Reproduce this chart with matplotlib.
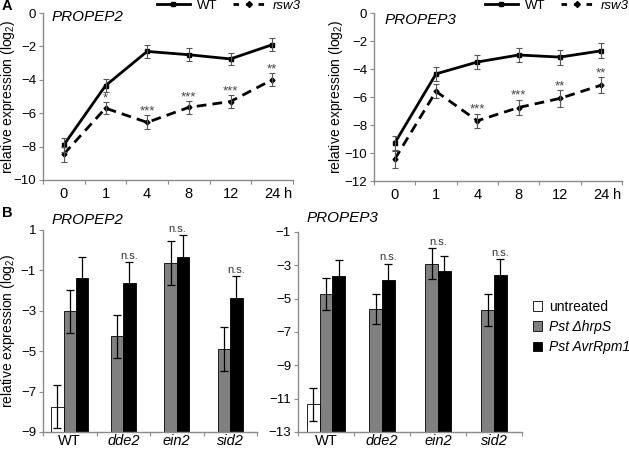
import numpy as np
import matplotlib
matplotlib.use("Agg")
import matplotlib.pyplot as plt
from matplotlib.lines import Line2D
from matplotlib.patches import Patch

plt.rcParams["font.family"] = ["Liberation Sans", "DejaVu Sans"]
plt.rcParams["mathtext.fontset"] = "custom"
plt.rcParams["mathtext.rm"] = "Liberation Sans"
plt.rcParams["mathtext.it"] = "Liberation Sans:italic"

# ── data ────────────────────────────────────────────────────────────────
time_labels = ["0", "1", "4", "8", "12", "24"]

p2_wt = [-7.9, -4.35, -2.3, -2.5, -2.75, -1.9]
p2_wt_err = [0.4, 0.4, 0.38, 0.38, 0.37, 0.38]
p2_rsw3 = [-8.45, -5.7, -6.55, -5.65, -5.3, -4.0]
p2_rsw3_err = [0.45, 0.35, 0.42, 0.37, 0.38, 0.38]
p2_stars = ["", "*", "***", "***", "***", "**"]

p3_wt = [-9.3, -4.35, -3.5, -3.0, -3.15, -2.7]
p3_wt_err = [0.5, 0.48, 0.5, 0.52, 0.53, 0.54]
p3_rsw3 = [-10.45, -5.6, -7.7, -6.75, -6.1, -5.15]
p3_rsw3_err = [0.6, 0.5, 0.5, 0.55, 0.6, 0.55]
p3_stars = ["", "", "***", "***", "**", "**"]

genotypes = ["WT", "dde2", "ein2", "sid2"]
nan = float("nan")
b2_untreated = [-7.75, nan, nan, nan]
b2_untreated_err = [1.07, nan, nan, nan]
b2_hrps = [-3.03, -4.27, -0.63, -4.88]
b2_hrps_err = [1.06, 1.06, 1.08, 1.08]
b2_avr = [-1.4, -1.63, -0.33, -2.38]
b2_avr_err = [1.07, 1.05, 1.08, 1.08]
b2_ns = ["", "n.s.", "n.s.", "n.s."]

b3_untreated = [-11.34, nan, nan, nan]
b3_untreated_err = [0.97, nan, nan, nan]
b3_hrps = [-4.7, -5.62, -2.9, -5.66]
b3_hrps_err = [0.95, 0.93, 0.93, 0.95]
b3_avr = [-3.62, -3.86, -3.36, -3.58]
b3_avr_err = [0.94, 0.95, 0.93, 0.96]
b3_ns = ["", "n.s.", "n.s.", "n.s."]

treatments = ["untreated", "Pst \u0394hrpS", "Pst AvrRpm1"]
bar_colors = ["white", "#808080", "black"]

SPINE = "#8a8a8a"
YLABEL = "relative expression (log$_2$)"
W, H = 629, 450


def px_axes(fig, left, top, right, bottom):
    return fig.add_axes([left / W, 1 - bottom / H, (right - left) / W, (bottom - top) / H])


def style_axes(ax, n, ylim, step, labels, italic=None, xpad=5):
    for side in ("top", "right"):
        ax.spines[side].set_visible(False)
    for side in ("left", "bottom"):
        ax.spines[side].set_color(SPINE)
        ax.spines[side].set_linewidth(1.0)
    ax.set_xlim(-0.5, n - 0.5)
    ax.set_ylim(*ylim)
    ax.set_yticks(np.arange(ylim[0], ylim[1] + 0.01, step))
    ax.set_xticks(np.arange(n + 1) - 0.5)
    ax.set_xticklabels([])
    ax.set_xticks(np.arange(n), minor=True)
    ax.set_xticklabels(labels, minor=True)
    ax.tick_params(axis="x", which="major", direction="out", length=3, color=SPINE)
    ax.tick_params(axis="x", which="minor", length=0, pad=xpad, labelsize=10.5)
    ax.tick_params(axis="y", direction="out", length=3, color=SPINE, pad=2, labelsize=9.5)
    if italic:
        for lab, it in zip(ax.get_xticklabels(minor=True), italic):
            lab.set_fontstyle("italic" if it else "normal")


def line_panel(ax, wt, wt_err, mut, mut_err, stars, ylim):
    x = np.arange(len(time_labels))
    ax.plot(x, wt, color="black", lw=2.0, marker="s", ms=2.5, zorder=3)
    ax.plot(x, mut, color="black", lw=2.0, ls=(0, (3.5, 2.2)), marker="D", ms=2.5, zorder=3)
    ax.errorbar(x, wt, yerr=wt_err, fmt="none", ecolor="#555555", elinewidth=0.8, capsize=2.2, capthick=0.8, zorder=4)
    ax.errorbar(x, mut, yerr=mut_err, fmt="none", ecolor="#555555", elinewidth=0.8, capsize=2.2, capthick=0.8, zorder=4)
    for xi, m, e, s in zip(x, mut, mut_err, stars):
        if s:
            ax.annotate(s, (xi, m + e), xytext=(0, -1.5), textcoords="offset points",
                        ha="center", va="bottom", fontsize=9.5, color="#444444")
    style_axes(ax, len(time_labels), ylim, 2, time_labels)
    ax.annotate("h", (5.38, 0), xycoords=("data", "axes fraction"), xytext=(0, -5),
                textcoords="offset points", ha="center", va="top", fontsize=10.5)
    ax.set_ylabel(YLABEL, fontsize=10)


def bar_panel(ax, series, errs, ns, ylim):
    n = len(genotypes)
    w = 0.23
    for i in range(n):
        present = [k for k in range(3) if not np.isnan(series[k][i])]
        offs = (np.arange(len(present)) - (len(present) - 1) / 2) * w
        tops = []
        for k, off in zip(present, offs):
            v, e = series[k][i], errs[k][i]
            ax.bar(i + off, v - ylim[0], bottom=ylim[0], width=w, color=bar_colors[k],
                   edgecolor="black", linewidth=0.6, zorder=2)
            ax.errorbar(i + off, v, yerr=e, fmt="none", ecolor="black", elinewidth=0.9,
                        capsize=3, capthick=0.9, zorder=3)
            tops.append((v + e, i + off))
        if ns[i]:
            top, xpos = max(tops)
            if len(present) == 2 and abs(series[1][i] - series[2][i]) < 1:
                xpos = i
            ax.annotate(ns[i], (xpos, top), xytext=(0, 1), textcoords="offset points",
                        ha="center", va="bottom", fontsize=8, color="#333333")
    style_axes(ax, n, ylim, 2, genotypes, italic=[g != "WT" for g in genotypes], xpad=1.5)


fig = plt.figure(figsize=(W / 100, H / 100), dpi=100)

ax1 = px_axes(fig, 43, 13, 293, 180)
line_panel(ax1, p2_wt, p2_wt_err, p2_rsw3, p2_rsw3_err, p2_stars, (-10, 0))
ax1.yaxis.set_label_coords(-0.105, 0.5)
ax1.text(0.035, 0.975, "PROPEP2", transform=ax1.transAxes, style="italic", fontsize=11, va="center")

ax2 = px_axes(fig, 374, 13, 622, 181)
line_panel(ax2, p3_wt, p3_wt_err, p3_rsw3, p3_rsw3_err, p3_stars, (-12, 0))
ax2.yaxis.set_label_coords(-0.115, 0.5)
ax2.text(0.044, 0.958, "PROPEP3", transform=ax2.transAxes, style="italic", fontsize=11, va="center")

ax3 = px_axes(fig, 43, 230, 257, 432)
bar_panel(ax3, [b2_untreated, b2_hrps, b2_avr], [b2_untreated_err, b2_hrps_err, b2_avr_err], b2_ns, (-9, 1))
ax3.set_ylabel(YLABEL, fontsize=10)
ax3.yaxis.set_label_coords(-0.123, 0.5)
fig.text(52 / W, 1 - 220 / H, "PROPEP2", style="italic", fontsize=11, va="center")

ax4 = px_axes(fig, 298, 232, 522, 432)
bar_panel(ax4, [b3_untreated, b3_hrps, b3_avr], [b3_untreated_err, b3_hrps_err, b3_avr_err], b3_ns, (-13, -1))
fig.text(307 / W, 1 - 218 / H, "PROPEP3", style="italic", fontsize=11, va="center")

# legends
line_handles = [
    Line2D([], [], color="black", lw=2.0, marker="s", ms=2.5),
    Line2D([], [], color="black", lw=2.0, ls=(0, (2.0, 2.5)), marker="D", ms=3),
]
for x0 in (157, 485):
    leg = fig.legend(line_handles, ["WT", "rsw3"], loc="center left", ncol=2,
                     bbox_to_anchor=(x0 / W, 1 - 6 / H), frameon=False, fontsize=9.5,
                     handlelength=2.5, handletextpad=0.5, columnspacing=1.2,
                     borderpad=0, borderaxespad=0)
    leg.get_texts()[1].set_fontstyle("italic")

bar_handles = [Patch(facecolor=c, edgecolor="black", linewidth=0.6) for c in bar_colors]
leg = fig.legend(bar_handles, treatments, loc="center left", bbox_to_anchor=(533 / W, 1 - 327 / H),
                 frameon=False, fontsize=10, handlelength=0.65, handleheight=0.65,
                 handletextpad=0.5, labelspacing=0.45, borderpad=0, borderaxespad=0)
for t in leg.get_texts()[1:]:
    t.set_fontstyle("italic")

fig.text(2 / W, 1 - 6 / H, "A", fontweight="bold", fontsize=10.5, va="center")
fig.text(2 / W, 1 - 213 / H, "B", fontweight="bold", fontsize=10.5, va="center")

fig.savefig("out.png", dpi=100)
